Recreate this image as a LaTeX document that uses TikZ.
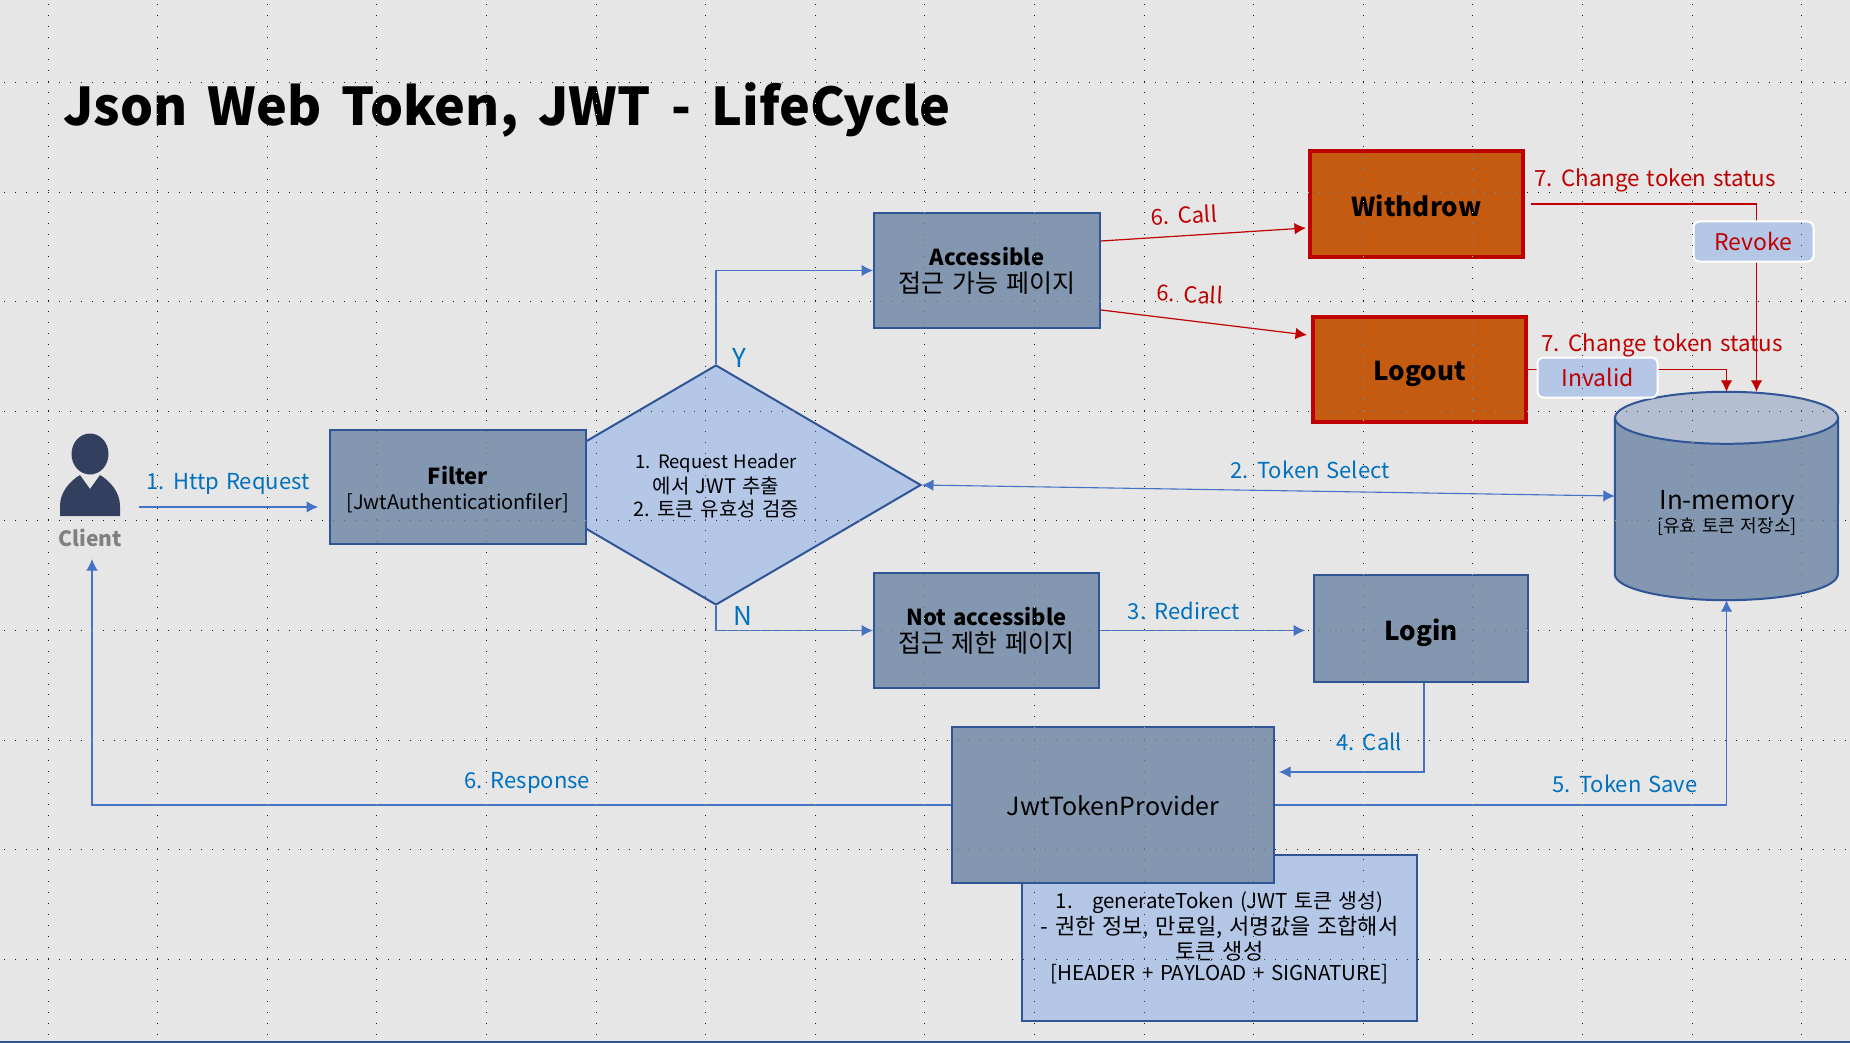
\documentclass[tikz,border=0pt]{standalone}
\usepackage{fontspec}
\usepackage{xcolor}
\usetikzlibrary{arrows.meta,shapes.geometric}
\setmainfont[WordSpace=1.4]{Noto Sans CJK KR}
\newfontfamily\titlefont[WordSpace=1.7]{Noto Sans CJK KR}
\definecolor{pagegray}{RGB}{230,230,230}
\definecolor{boxfill}{RGB}{132,151,176}
\definecolor{boxframe}{RGB}{47,85,151}
\definecolor{lightfill}{RGB}{180,199,231}
\definecolor{capfill}{RGB}{179,191,208}
\definecolor{rot}{RGB}{192,0,0}
\definecolor{orangefill}{RGB}{197,90,17}
\definecolor{linkblue}{RGB}{68,114,196}
\definecolor{textblue}{RGB}{0,112,192}
\definecolor{personblue}{RGB}{50,63,94}
\newcommand{\fs}[1]{\fontsize{#1}{#1}\selectfont}
\tikzset{
    boxnode/.style={draw=boxframe, line width=2pt, fill=boxfill, inner sep=0pt, align=center},
    redbox/.style={draw=rot, line width=4pt, fill=orangefill, inner sep=0pt, align=center},
    tagnode/.style={draw=white, line width=2pt, fill=lightfill, rounded corners=6pt, inner sep=0pt, text=rot},
    bluelabel/.style={text=textblue, inner sep=0pt},
    redlabel/.style={text=rot, inner sep=0pt},
    bluelink/.style={->, color=linkblue, line width=1.1pt},
    redlink/.style={->, color=rot, line width=1.2pt}
}
\begin{document}
\begin{tikzpicture}[x=1pt, y=-1pt, >={Latex[length=11.5pt,width=11.5pt]}, font=\fs{20}]
    \useasboundingbox (0,0) rectangle (1850,1043);
    \fill[pagegray] (0,0) rectangle (1850,1043);
    \fill[boxframe] (0,1041) rectangle (1850,1043);
    \node[anchor=west, inner sep=0pt] (title) at (63,110) {\titlefont\fs{52}\bfseries Json Web Token, JWT - LifeCycle};
    % client
    \fill[personblue] (90,454) ellipse [x radius=18.5, y radius=20.5];
    \fill[personblue] (60,516) -- (60,506) .. controls (60,492) and (70,481) .. (80,475)
        -- (90,489) -- (100,475) .. controls (110,481) and (120,492) .. (120,506) -- (120,516) -- cycle;
    \node[inner sep=0pt, text=gray] (client) at (90,538) {\fs{21}\bfseries Client};
    \node[inner sep=0pt] (start) at (138,507) {};
    % boxes
    \node[diamond, draw=boxframe, line width=2pt, fill=lightfill, minimum width=410pt, minimum height=240pt, inner sep=0pt, align=center] (check) at (716,485) {};
    \node[boxnode, minimum width=256pt, minimum height=114pt] (filter) at (458,487) {\rule{0pt}{24pt}{\fs{22}\bfseries Filter}\\[5pt]{[JwtAuthenticationfiler]}};
    \node[align=center, inner sep=0pt] (checktext) at (716,486) {\fs{18.5}1. Request Header\\[3pt]\fs{20}에서 JWT 추출\\[3pt]\fs{20}2. 토큰 유효성 검증};
    \node[boxnode, minimum width=226pt, minimum height=115pt] (access) at (987,270.5) {{\fs{22}\bfseries Accessible}\\[5pt]{\fs{25}접근 가능 페이지}};
    \node[boxnode, minimum width=225pt, minimum height=115pt] (deny) at (986.5,630.5) {{\fs{22}\bfseries Not accessible}\\[5pt]{\fs{25}접근 제한 페이지}};
    \node[boxnode, minimum width=214pt, minimum height=107pt, text height=30pt] (login) at (1421,628.5) {\fs{26}\bfseries Login};
    \node[redbox, minimum width=213pt, minimum height=106pt, text height=26pt] (withdrow) at (1416.5,204) {\fs{26}\bfseries Withdrow};
    \node[redbox, minimum width=213pt, minimum height=105pt, text height=28pt] (logout) at (1419.5,369.5) {\fs{26}\bfseries Logout};
    \node[inner sep=0pt, minimum width=223pt, minimum height=208pt] (memory) at (1726.5,496) {};
    \draw[boxframe, line width=2pt, fill=boxfill] ([yshift=-26pt]memory.north west) -- ([yshift=26pt]memory.south west)
        arc [start angle=180, end angle=360, x radius=111.5pt, y radius=26pt] -- ([yshift=-26pt]memory.north east) -- cycle;
    \draw[boxframe, line width=2pt, fill=capfill] ([yshift=-26pt]memory.north) ellipse [x radius=111.5pt, y radius=26pt];
    \node[align=center, inner sep=0pt] (memorytext) at (1727,513) {\fs{26}In-memory\\[2pt]\fs{18}[유효 토큰 저장소]};
    \node[draw=boxframe, line width=2pt, fill=lightfill, minimum width=395pt, minimum height=166pt, inner sep=0pt, align=center] (note) at (1219.5,938) {};
    \node[boxnode, minimum width=322pt, minimum height=156pt, text height=22pt] (provider) at (1113,805) {\fs{25}JwtTokenProvider};
    \node[align=center, inner sep=0pt] (notetext) at (1219.5,938) {\fs{20.5}1.\ \ \ generateToken (JWT 토큰 생성)\\[1.5pt]\fs{22}- 권한 정보, 만료일, 서명값을 조합해서\\[1.5pt]\fs{22}토큰 생성\\[1.5pt]\fs{20.5}[HEADER + PAYLOAD + SIGNATURE]};
    % connectors blue
    \draw[bluelink] (start) -- ([xshift=-11pt]filter.west |- start);
    \draw[bluelink] (check.north) |- (access.west);
    \draw[bluelink] (check.south) |- (deny.west);
    \draw[bluelink, <->] (check.east) -- (memory.west);
    \draw[bluelink] (deny.east) -- ([xshift=-8pt]login.west |- deny.east);
    \draw[bluelink] ([xshift=3pt]login.south) |- ([xshift=4pt,yshift=33pt]provider.east);
    \draw[bluelink] (provider.east) -| (memory.south);
    \draw[bluelink] (provider.west) -| ([xshift=2pt,yshift=-12pt]client.south);
    % connectors red
    \draw[redlink] (access.east |- 0,241) -- ([xshift=-2pt]withdrow.west |- 0,228);
    \draw[redlink] (access.east |- 0,310) -- ([xshift=-4pt]logout.west |- 0,335);
    \draw[redlink] ([xshift=6pt]withdrow.east) -| ([xshift=30pt]memory.north);
    \draw[redlink] (logout.east) -| (memory.north);
    \node[tagnode, minimum width=120pt, minimum height=40pt] (revoke) at (1753.5,241.5) {\fs{23}Revoke};
    \node[tagnode, minimum width=120pt, minimum height=40pt] (invalid) at (1597.5,377.5) {\fs{23}Invalid};
    % labels
    \node[bluelabel] (lhttp) at (228,484) {\fs{22}1. Http Request};
    \node[bluelabel] (ly) at (739,358) {\fs{26}Y};
    \node[bluelabel] (ln) at (743,616) {\fs{26}N};
    \node[bluelabel] (lselect) at (1310,470) {\fs{22}2. Token Select};
    \node[bluelabel] (lredirect) at (1184,611) {\fs{22}3. Redirect};
    \node[bluelabel] (lcall) at (1369,742) {\fs{22}4. Call};
    \node[bluelabel] (lsave) at (1625,784) {\fs{22}5. Token Save};
    \node[bluelabel] (lresponse) at (527,783) {\fs{22}6. Response};
    \node[redlabel, rotate=3] (lcalla) at (1184,215) {\fs{22}6. Call};
    \node[redlabel, rotate=-3] (lcallb) at (1190,294) {\fs{22}6. Call};
    \node[redlabel] (lstatusa) at (1655,180) {\fs{22.3}7. Change token status};
    \node[redlabel] (lstatusb) at (1662,345) {\fs{22.3}7. Change token status};
    % guides
    \begin{scope}[blend mode=difference, color=white, line width=1pt, dash pattern=on 1pt off 9.96pt]
        \foreach \gy in {0,...,8} {
            \draw (4,82.5+109.6*\gy) -- (1850,82.5+109.6*\gy);
        }
        \foreach \gx in {0,...,16} {
            \draw (48+109.6*\gx,4) -- (48+109.6*\gx,1043);
        }
    \end{scope}
\end{tikzpicture}
\end{document}
